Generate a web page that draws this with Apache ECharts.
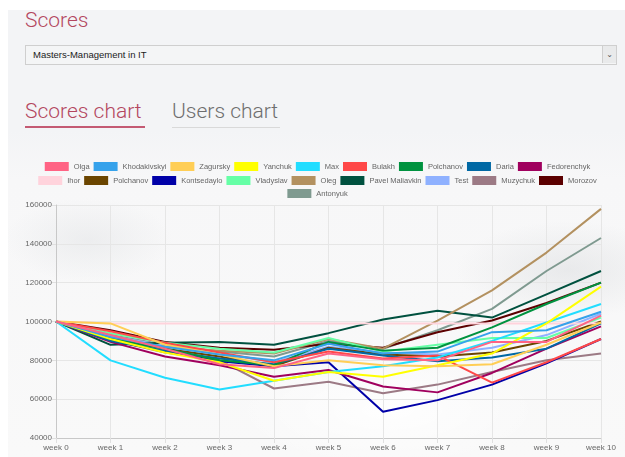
<!DOCTYPE html>
<html>
<head>
<meta charset="utf-8">
<script src="https://cdn.jsdelivr.net/npm/echarts@6/dist/echarts.min.js"></script>
<style>
  html, body { margin: 0; padding: 0; width: 625px; height: 457px; overflow: hidden; background: #ffffff; }
  .page {
    position: absolute; left: 8px; top: 10px; width: 617px; height: 447px;
    background:
      radial-gradient(ellipse 160px 70px at 560px 260px, rgba(220,222,224,0.55), rgba(220,222,224,0) 70%),
      radial-gradient(ellipse 120px 60px at 80px 230px, rgba(225,227,229,0.5), rgba(225,227,229,0) 70%),
      radial-gradient(ellipse 220px 80px at 380px 400px, rgba(255,255,255,0.9), rgba(255,255,255,0) 70%),
      linear-gradient(#f3f4f6 0px, #f3f4f6 120px, #f7f7f8 170px, #f9f9f9 447px);
  }
  .title { position: absolute; left: 25px; top: 8px; font: 300 21px Roboto, "Open Sans", sans-serif; color: #b4475f; }
  .select {
    position: absolute; left: 25px; top: 45px; width: 590px; height: 18px;
    border: 1px solid #cfcfcf; background: #f4f5f6; box-sizing: content-box;
  }
  .select span { position: absolute; left: 7px; top: 3px; font: 9.5px "Liberation Sans", Arial, sans-serif; color: #222; }
  .select .arrow {
    position: absolute; right: 0; top: 0; width: 13px; height: 17px;
    border-left: 1px solid #cfcfcf; background: #e9eaeb; font: 8px "DejaVu Sans", sans-serif; color: #555;
    text-align: center; line-height: 17px;
  }
  .tab { position: absolute; top: 99px; font: 300 21px Roboto, "Open Sans", sans-serif; }
  .tab.active { left: 25px; color: #b4475f; }
  .tab.idle { left: 172px; color: #6e6e6e; }
  .line { position: absolute; top: 127px; height: 1px; }
  .line.active { left: 25px; width: 120px; background: #c45a73; height: 2px; top: 126px; }
  .line.idle { left: 172px; width: 108px; background: #d9d9d9; }
  #chart { position: absolute; left: 10px; top: 140px; width: 615px; height: 317px; }
</style>
</head>
<body>
<div class="page"></div>
<div class="title">Scores</div>
<div class="select"><span>Masters-Management in IT</span><div class="arrow">&#8964;</div></div>
<div class="tab active">Scores chart</div>
<div class="line active"></div>
<div class="tab idle">Users chart</div>
<div class="line idle"></div>
<div id="chart"></div>
<script>
// Weekly score of each user, week 0 .. week 10
const weeks = ['week 0', 'week 1', 'week 2', 'week 3', 'week 4', 'week 5', 'week 6', 'week 7', 'week 8', 'week 9', 'week 10'];

const olga         = [100000, 93000, 86000, 78000, 76000, 83500, 80500, 80000, 89500, 89500, 103000];
const khodakivskyi = [100000, 92000, 87000, 83000, 80000, 88500, 83500, 84500, 94500, 95500, 105000];
const zagursky     = [100000, 99000, 88000, 83000, 77000, 80000, 77500, 77000, 78000, 88000, 99500];
const yanchuk      = [100000, 91000, 84000, 79000, 69500, 74000, 71500, 77500, 83500, 99000, 118000];
const max          = [100000, 80000, 71000, 65000, 69500, 74000, 77000, 81500, 90000, 99500, 109000];
const bulakh       = [100000, 95000, 89000, 84000, 79000, 84500, 81000, 82500, 68500, 79000, 91000];
const polchanovA   = [100000, 91000, 86000, 80000, 77500, 89500, 85000, 86500, 97000, 109000, 120000];
const daria        = [100000, 90000, 85000, 81000, 78000, 86000, 82500, 79500, 81500, 86000, 99000];
const fedorenchyk  = [100000, 89500, 82000, 77500, 71500, 75000, 66500, 63500, 73500, 86000, 97500];
const ihor         = [100000, 99000, 99000, 99000, 99000, 99000, 99000, 99000, 99000, 99000, 99000];
const polchanovB   = [100000, 91500, 86000, 82000, 77000, 86500, 83000, 82000, 84000, 90000, 100000];
const kontsedaylo  = [100000, 90500, 84500, 79500, 77000, 79000, 53500, 59500, 67500, 78500, 91000];
const vladyslav    = [100000, 94000, 89000, 86000, 84000, 91500, 84500, 88000, 91500, 91500, 102000];
const oleg         = [100000, 91000, 87000, 85000, 83500, 91000, 86000, 100500, 116000, 135500, 158000];
const pavel        = [100000, 88000, 89000, 89500, 88000, 94000, 101000, 105500, 102000, 114000, 126000];
const test         = [100000, 92500, 87500, 83500, 79000, 87000, 84000, 83000, 86500, 93000, 104000];
const muzychuk     = [100000, 90500, 84000, 80000, 65500, 69000, 63000, 67500, 74000, 80000, 83500];
const morozov      = [100000, 95500, 89500, 86500, 85500, 88500, 86500, 94500, 100500, 109500, 120000];
const antonyuk     = [100000, 93000, 88000, 84500, 82000, 90000, 86000, 95500, 106500, 126000, 143000];

// Series names (the second Polchanov carries a trailing space so both keep their own legend entry)
const names = ['Olga', 'Khodakivskyi', 'Zagursky', 'Yanchuk', 'Max', 'Bulakh', 'Polchanov', 'Daria', 'Fedorenchyk',
               'Ihor', 'Polchanov ', 'Kontsedaylo', 'Vladyslav', 'Oleg', 'Pavel Maliavkin', 'Test', 'Muzychuk', 'Morozov',
               'Antonyuk'];
const values = [olga, khodakivskyi, zagursky, yanchuk, max, bulakh, polchanovA, daria, fedorenchyk,
                ihor, polchanovB, kontsedaylo, vladyslav, oleg, pavel, test, muzychuk, morozov, antonyuk];
const colors = ['#ff6384', '#36a2eb', '#ffce56', '#ffff00', '#22ddff', '#ff4848', '#00923f', '#0068a4', '#a0005e',
                '#ffd3dc', '#6b4500', '#0000a8', '#66ffa6', '#b39160', '#00513f', '#8fb1ff', '#9c7a85', '#5c0000',
                '#7f9a90'];

// y axis range and tick step
const yMin = 40000, yMax = 160000, yStep = 20000;

const chart = echarts.init(document.getElementById('chart'), null, { renderer: 'canvas' });

const legendBase = {
  orient: 'horizontal',
  left: 'center',
  width: 610,
  padding: 0,
  itemWidth: 24,
  itemHeight: 9,
  itemGap: 4,
  icon: 'rect',
  selectedMode: false,
  formatter: n => n.trim(),
  textStyle: { fontSize: 7.5, color: '#666', fontFamily: '"Liberation Sans", Arial, sans-serif' }
};

const axisFont = '"Liberation Sans", Arial, sans-serif';

const option = {
  animation: false,
  color: colors,
  legend: [
    Object.assign({}, legendBase, { top: 22, data: names.slice(0, 9) }),
    Object.assign({}, legendBase, { top: 36, data: names.slice(9, 18) }),
    Object.assign({}, legendBase, { top: 49, data: names.slice(18) })
  ],
  grid: { left: 46, right: 24, top: 65, bottom: 19, containLabel: false },
  xAxis: {
    type: 'category',
    data: weeks,
    boundaryGap: false,
    axisLine: { lineStyle: { color: '#c8c8c8' } },
    axisTick: { show: true, length: 5, lineStyle: { color: '#e0e0e0' } },
    axisLabel: { color: '#666', fontSize: 8, margin: 6, fontFamily: axisFont },
    splitLine: { show: true, lineStyle: { color: '#e6e6e6' } }
  },
  yAxis: {
    type: 'value',
    min: yMin, max: yMax, interval: yStep,
    axisLine: { show: true, lineStyle: { color: '#c8c8c8' } },
    axisTick: { show: true, length: 4, lineStyle: { color: '#e0e0e0' } },
    axisLabel: { color: '#666', fontSize: 8, margin: 4, fontFamily: axisFont, formatter: v => String(v) },
    splitLine: { show: true, lineStyle: { color: '#e6e6e6' } }
  },
  series: names.map((n, i) => ({
    name: n,
    type: 'line',
    data: values[i],
    showSymbol: false,
    symbol: 'none',
    smooth: false,
    z: 40 - i,
    lineStyle: { width: 2, color: colors[i] },
    itemStyle: { color: colors[i] }
  }))
};

chart.setOption(option);
</script>
</body>
</html>
